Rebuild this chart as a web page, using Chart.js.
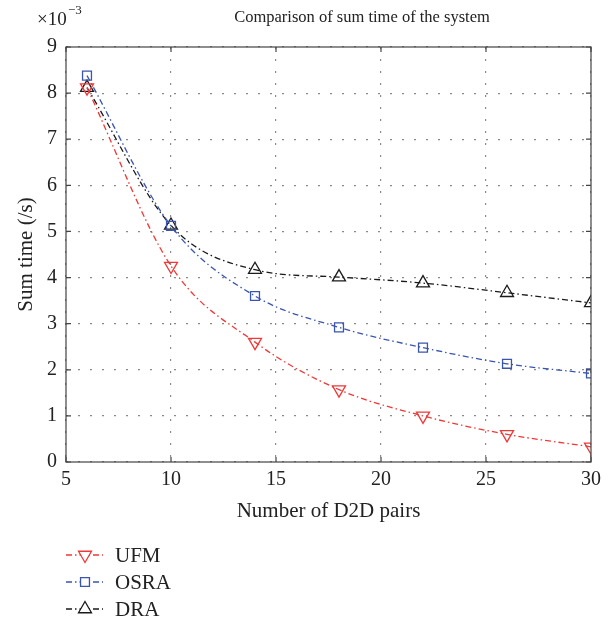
<!DOCTYPE html>
<html><head><meta charset="utf-8">
<script src="https://cdn.jsdelivr.net/npm/chart.js@4"></script>
<style>html,body{margin:0;padding:0;background:#fff}#wrap{width:615px;height:620px}</style>
</head><body><div id="wrap"><canvas id="c" width="615" height="620"></canvas></div>
<script>
const xValues = [6, 10, 14, 18, 22, 26, 30];
const ufm  = [8.12, 4.25, 2.60, 1.57, 1.00, 0.60, 0.33];
const osra = [8.38, 5.12, 3.60, 2.92, 2.48, 2.13, 1.92];
const dra  = [8.12, 5.13, 4.17, 4.01, 3.88, 3.67, 3.45];
const seriesNames = ['UFM', 'OSRA', 'DRA'];
const xTicks = [5, 10, 15, 20, 25, 30];
const yTicks = [0, 1, 2, 3, 4, 5, 6, 7, 8, 9];

const FONT = '"Liberation Serif", "DejaVu Serif", serif';
const DASH = [6, 3, 1.5, 3];
const toPts = arr => arr.map((v, i) => ({x: xValues[i], y: v}));

const datasets = [
  {label: seriesNames[0], data: toPts(ufm), borderColor: '#f03838', pointStyle: 'triangle', rotation: 180, pointRadius: 7.5},
  {label: seriesNames[1], data: toPts(osra), borderColor: '#3a55b0', pointStyle: 'rect', rotation: 0, pointRadius: 6.3},
  {label: seriesNames[2], data: toPts(dra), borderColor: '#1a1a1a', pointStyle: 'triangle', rotation: 0, pointRadius: 7.5}
].map(d => Object.assign(d, {
  borderWidth: 1.3, borderDash: DASH, pointBorderColor: d.borderColor,
  pointBackgroundColor: 'rgba(0,0,0,0)', pointBorderWidth: 1.3,
  cubicInterpolationMode: 'monotone', fill: false, pointHoverRadius: d.pointRadius
}));

const deco = {
  id: 'deco',
  afterDraw(chart) {
    const ctx = chart.ctx, a = chart.chartArea;
    const xs = chart.scales.x, ys = chart.scales.y;
    ctx.save();
    ctx.strokeStyle = '#444'; ctx.lineWidth = 1.2; ctx.setLineDash([]);
    ctx.strokeRect(a.left, a.top, a.right - a.left, a.bottom - a.top);
    ctx.beginPath();
    xTicks.forEach(t => { const p = xs.getPixelForValue(t);
      ctx.moveTo(p, a.bottom); ctx.lineTo(p, a.bottom - 5);
      ctx.moveTo(p, a.top); ctx.lineTo(p, a.top + 5); });
    yTicks.forEach(t => { const p = ys.getPixelForValue(t);
      ctx.moveTo(a.left, p); ctx.lineTo(a.left + 5, p);
      ctx.moveTo(a.right, p); ctx.lineTo(a.right - 5, p); });
    ctx.stroke();
    ctx.fillStyle = '#222';
    ctx.font = '16.5px ' + FONT; ctx.textAlign = 'center'; ctx.textBaseline = 'middle';
    ctx.fillText('Comparison of sum time of the system', 362, 18);
    ctx.textAlign = 'left';
    ctx.font = '19px ' + FONT;
    ctx.fillText('×10', 37, 20);
    ctx.font = '13px ' + FONT;
    ctx.fillText('−3', 68, 11);
    const rows = [555, 582, 609];
    chart.data.datasets.forEach((d, i) => {
      const y = rows[i];
      ctx.strokeStyle = d.borderColor; ctx.lineWidth = 1.3; ctx.setLineDash(DASH);
      ctx.beginPath(); ctx.moveTo(66, y); ctx.lineTo(103, y); ctx.stroke();
      ctx.setLineDash([]);
      ctx.fillStyle = '#fff'; ctx.strokeStyle = d.borderColor;
      Chart.helpers.drawPoint(ctx, {pointStyle: d.pointStyle, rotation: d.rotation, radius: d.pointRadius, borderWidth: 1.3}, 85, y);
      ctx.fillStyle = '#222'; ctx.font = '21px ' + FONT;
      ctx.textAlign = 'left'; ctx.textBaseline = 'middle';
      ctx.fillText(d.label, 115, y + 1);
    });
    ctx.restore();
  }
};

new Chart(document.getElementById('c'), {
  type: 'line',
  data: {datasets},
  options: {
    responsive: false, animation: false, events: [],
    layout: {padding: {left: 0, top: 47, right: 24, bottom: 92}},
    plugins: {legend: {display: false}, tooltip: {enabled: false}, title: {display: false}},
    scales: {
      x: {
        type: 'linear', min: 5, max: 30,
        afterBuildTicks: s => { s.ticks = xTicks.map(v => ({value: v})); },
        afterFit: s => { s.height = 66; },
        grid: {color: '#8a8a8a', lineWidth: 1.2, drawTicks: false},
        border: {display: false, dash: [2, 10]},
        ticks: {color: '#222', font: {family: FONT, size: 20}, padding: 6, maxRotation: 0},
        title: {display: true, text: 'Number of D2D pairs', color: '#222', font: {family: FONT, size: 21}, padding: {top: 5, bottom: 4}}
      },
      y: {
        type: 'linear', min: 0, max: 9,
        afterBuildTicks: s => { s.ticks = yTicks.map(v => ({value: v})); },
        afterFit: s => { s.width = 66; },
        grid: {color: '#8a8a8a', lineWidth: 1.2, drawTicks: false},
        border: {display: false, dash: [2, 10]},
        ticks: {color: '#222', font: {family: FONT, size: 20}, padding: 9},
        title: {display: true, text: 'Sum time (/s)', color: '#222', font: {family: FONT, size: 21}, padding: {top: 14, bottom: 0}}
      }
    }
  },
  plugins: [deco]
});
</script></body></html>
